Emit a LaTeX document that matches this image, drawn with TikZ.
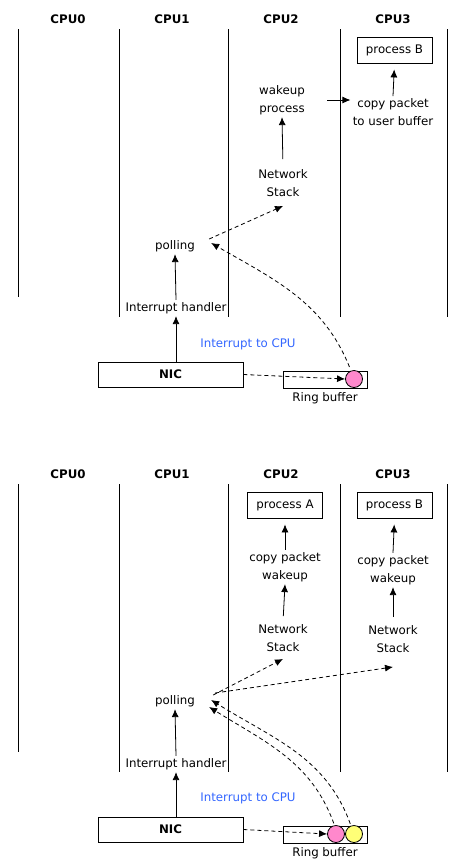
\documentclass[tikz,border=0pt]{standalone}
\usepackage{fontspec}
\setmainfont{DejaVu Sans}
\usetikzlibrary{arrows.meta, positioning}
\definecolor{irqblue}{RGB}{51,102,255}
\definecolor{pktpink}{RGB}{255,136,204}
\definecolor{pktyellow}{RGB}{255,255,119}

\begin{document}
\begin{tikzpicture}[x=1pt, y=1pt, >={Latex[length=8pt,width=7pt]}, line width=0.8pt,
    font=\fontsize{11.8}{18}\selectfont,
    cpu/.style={font=\fontsize{11.8}{18}\selectfont\bfseries},
    txt/.style={align=center, inner sep=2pt},
    procbox/.style={rectangle, draw, minimum width=75pt, minimum height=26pt, inner sep=0pt},
    nicbox/.style={rectangle, draw, minimum width=145pt, minimum height=25pt, inner sep=0pt, font=\fontsize{11.8}{18}\selectfont\bfseries},
    ringbox/.style={rectangle, draw, minimum width=84pt, minimum height=17pt, inner sep=0pt},
    packet/.style={circle, draw, minimum size=17pt, inner sep=0pt},
    dasharr/.style={->, dash pattern=on 4pt off 3pt}]

\useasboundingbox (0,0) rectangle (460,-865);

% ---- One packet ----

% CPUs
\node[cpu] (cpu0) at (68,-19) {CPU0};
\node[cpu] (cpu1) at (172,-19) {CPU1};
\node[cpu] (cpu2) at (281,-19) {CPU2};
\node[cpu] (cpu3) at (393,-19) {CPU3};

% Lanes
\draw (18,-29) -- (18,-297);
\draw (119,-29) -- (119,-317);
\draw (228,-29) -- (228,-317);
\draw (340,-29) -- (340,-317);
\draw (447,-29) -- (447,-317);

% Steps
\node[procbox] (procB) at (394.5,-50) {process B};
\node[txt] (wakeup) at (282,-100) {wakeup\\process};
\node[txt] (copyB) at (393,-112) {copy packet\\to user buffer};
\node[txt] (stack) at (283,-183) {Network\\Stack};
\node[txt] (polling) at (175,-246) {polling};
\node[txt] (handler) at (176,-308) {Interrupt handler};
\node[text=irqblue] (irq) at (248,-344) {Interrupt to CPU};
\node[nicbox] (nic) at (170.5,-374.5) {NIC};
\node[ringbox] (ring) at (325,-379.5) {};
\node[packet, fill=pktpink] (pktA) at (354,-379) {};
\node[below=0pt of ring] (ringlbl) {Ring buffer};

% Arrows
\draw[->] (handler |- nic.north) -- (handler.south);
\draw[->] (handler.north) -- (polling.south);
\draw[->, shorten <=8pt] (stack.north) -- (wakeup.south);
\draw[->] ([xshift=20pt]wakeup.east) -- (copyB.west |- wakeup.east);
\draw[->, shorten >=6pt] (copyB.north) -- (procB.south);
\draw[dasharr] (nic.east) -- (pktA.west);
\draw[dasharr, shorten <=4pt] (pktA.110) to[out=112, in=-30] ([xshift=14pt, yshift=3pt]polling.east);
\draw[dasharr] ([xshift=12pt, yshift=7pt]polling.east) -- ([yshift=-7pt]stack.south);

% ---- Two packets ----

% CPUs
\node[cpu] (cpu0b) at (68,-474) {CPU0};
\node[cpu] (cpu1b) at (172,-474) {CPU1};
\node[cpu] (cpu2b) at (281,-474) {CPU2};
\node[cpu] (cpu3b) at (393,-474) {CPU3};

% Lanes
\draw (18,-484) -- (18,-752);
\draw (119,-484) -- (119,-772);
\draw (228,-484) -- (228,-772);
\draw (340,-484) -- (340,-772);
\draw (447,-484) -- (447,-772);

% Steps
\node[procbox] (procA) at (285,-505) {process A};
\node[procbox] (procBb) at (394.5,-505) {process B};
\node[txt] (copyA) at (285,-567) {copy packet\\wakeup};
\node[txt] (copyBb) at (393,-570) {copy packet\\wakeup};
\node[txt] (stackA) at (283,-638) {Network\\Stack};
\node[txt] (stackB) at (393,-639) {Network\\Stack};
\node[txt] (pollingb) at (175,-701) {polling};
\node[txt] (handlerb) at (176,-764) {Interrupt handler};
\node[text=irqblue] (irqb) at (248,-798) {Interrupt to CPU};
\node[nicbox] (nicb) at (170.5,-829.5) {NIC};
\node[ringbox] (ringb) at (325,-834.5) {};
\node[packet, fill=pktpink] (pktAb) at (336,-834) {};
\node[packet, fill=pktyellow] (pktBb) at (354,-834) {};
\node[below=0pt of ringb] (ringlblb) {Ring buffer};

% Arrows
\draw[->] (handlerb |- nicb.north) -- (handlerb.south);
\draw[->] (handlerb.north) -- (pollingb.south);
\draw[->, shorten <=6pt] (stackA.north) -- (copyA.south);
\draw[->, shorten >=6pt] (copyA.north) -- (procA.south);
\draw[->, shorten <=6pt] (stackB.north) -- (copyBb.south);
\draw[->, shorten >=6pt] (copyBb.north) -- (procBb.south);
\draw[dasharr] (nicb.east) -- (pktAb.west);
\draw[dasharr, shorten <=2pt] (pktAb.100) to[out=110, in=-32] ([xshift=12pt, yshift=-6pt]pollingb.east);
\draw[dasharr, shorten <=2pt] (pktBb.110) to[out=110, in=-32] ([xshift=14pt, yshift=1pt]pollingb.east);
\draw[dasharr] ([xshift=16pt, yshift=6pt]pollingb.east) -- ([yshift=-5pt]stackA.south);
\draw[dasharr] ([xshift=18pt, yshift=8pt]pollingb.east) -- ([yshift=-12pt]stackB.south);

\end{tikzpicture}
\end{document}
